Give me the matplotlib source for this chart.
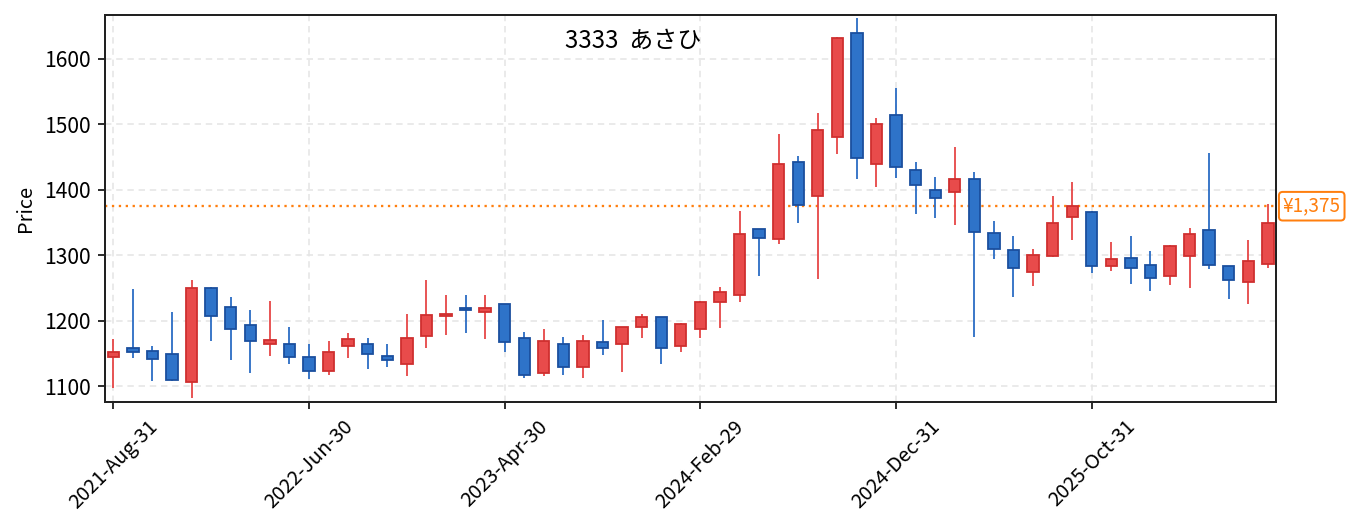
import matplotlib
matplotlib.use("Agg")
import matplotlib.pyplot as plt
import matplotlib.transforms as mtransforms
import numpy as np

plt.rcParams['font.family'] = ['Noto Sans CJK JP', 'DejaVu Sans']

title_text = "3333  あさひ"
tick_labels = ["2021-Aug-31", "2022-Jun-30", "2023-Apr-30",
               "2024-Feb-29", "2024-Dec-31", "2025-Oct-31"]
ref_price = 1375
ref_label = "¥1,375"

opens = [1144, 1159, 1154, 1149, 1106, 1250, 1221, 1193, 1164, 1165,
         1145, 1124, 1162, 1165, 1146, 1134, 1177, 1208, 1219, 1214,
         1225, 1174, 1120, 1164, 1129, 1167, 1164, 1191, 1206, 1162,
         1188, 1228, 1239, 1340, 1325, 1443, 1391, 1481, 1639, 1440,
         1515, 1431, 1399, 1396, 1416, 1334, 1308, 1274, 1299, 1359,
         1366, 1284, 1296, 1285, 1269, 1299, 1339, 1283, 1260, 1286]
closes = [1153, 1153, 1141, 1109, 1250, 1207, 1188, 1169, 1171, 1144,
          1124, 1153, 1172, 1150, 1140, 1174, 1209, 1211, 1216, 1220,
          1168, 1117, 1169, 1129, 1169, 1159, 1190, 1206, 1159, 1195,
          1228, 1244, 1332, 1326, 1440, 1377, 1491, 1632, 1449, 1501,
          1435, 1408, 1388, 1416, 1335, 1310, 1281, 1300, 1349, 1376,
          1283, 1295, 1280, 1265, 1314, 1332, 1285, 1263, 1291, 1349]
highs = [1172, 1249, 1161, 1213, 1262, 1252, 1236, 1217, 1230, 1190,
         1164, 1169, 1181, 1173, 1164, 1211, 1262, 1240, 1239, 1239,
         1226, 1183, 1188, 1175, 1178, 1201, 1191, 1211, 1206, 1197,
         1231, 1252, 1367, 1340, 1486, 1451, 1518, 1633, 1663, 1510,
         1556, 1443, 1420, 1466, 1427, 1353, 1330, 1310, 1391, 1412,
         1368, 1320, 1330, 1307, 1316, 1342, 1457, 1284, 1323, 1379]
lows = [1097, 1143, 1108, 1108, 1082, 1169, 1140, 1120, 1146, 1134,
        1111, 1117, 1143, 1127, 1129, 1115, 1158, 1179, 1182, 1172,
        1152, 1113, 1116, 1117, 1113, 1148, 1122, 1174, 1134, 1152,
        1174, 1189, 1228, 1268, 1317, 1349, 1264, 1454, 1416, 1405,
        1418, 1363, 1357, 1347, 1175, 1294, 1236, 1253, 1297, 1323,
        1273, 1276, 1256, 1245, 1254, 1250, 1279, 1233, 1226, 1280]

o = np.array(opens, dtype=float)
c = np.array(closes, dtype=float)
h = np.array(highs, dtype=float)
l = np.array(lows, dtype=float)
x = np.arange(len(o))
up = c >= o

UP_FACE, UP_EDGE, UP_WICK = "#e84b4b", "#cf2f2f", "#e64646"
DN_FACE, DN_EDGE, DN_WICK = "#2e73c9", "#1a4f9e", "#2a6cc4"

W, H_ = 1355, 532
fig = plt.figure(figsize=(W / 144, H_ / 144), dpi=144)
ax = fig.add_axes([104.5 / W, 1 - 402 / H_, (1275.7 - 104.5) / W, (402 - 15) / H_])

# wicks
ax.vlines(x[up], l[up], h[up], color=UP_WICK, linewidth=0.9, zorder=2)
ax.vlines(x[~up], l[~up], h[~up], color=DN_WICK, linewidth=0.9, zorder=2)

# bodies
bw = 0.58
ax.bar(x[up], (c - o)[up], bottom=o[up], width=bw, color=UP_FACE,
       edgecolor=UP_EDGE, linewidth=0.9, zorder=3)
ax.bar(x[~up], (o - c)[~up], bottom=c[~up], width=bw, color=DN_FACE,
       edgecolor=DN_EDGE, linewidth=0.9, zorder=3)

# reference line
ax.axhline(ref_price, color="#ff7f0e", linestyle=(0, (1, 2)), linewidth=1.15, zorder=1.5)
trans = mtransforms.blended_transform_factory(ax.transAxes, ax.transData)
ax.text(1.006, ref_price, ref_label, transform=trans, ha="left", va="center",
        fontsize=9.5, color="#ff7f0e",
        bbox=dict(boxstyle="round,pad=0.2", facecolor="white",
                  edgecolor="#ff7f0e", linewidth=1.0))

ax.set_xlim(-0.45, 59.4)
ax.set_ylim(1076, 1667)
ax.set_yticks([1100, 1200, 1300, 1400, 1500, 1600])
ax.set_xticks(x[::10])
ax.set_xticklabels(tick_labels, rotation=45, fontsize=10)
ax.tick_params(axis="y", labelsize=10.5)
ax.set_ylabel("Price", fontsize=10)

ax.grid(True, linestyle=(0, (4, 3)), color="#e6e6e6", linewidth=0.8, zorder=0)
ax.set_axisbelow(True)
for s in ax.spines.values():
    s.set_linewidth(1.0)
    s.set_color("#222222")

fig.text(633 / W, 1 - 41 / H_, title_text, ha="center", va="center", fontsize=12)

fig.savefig("out.png", dpi=144)
